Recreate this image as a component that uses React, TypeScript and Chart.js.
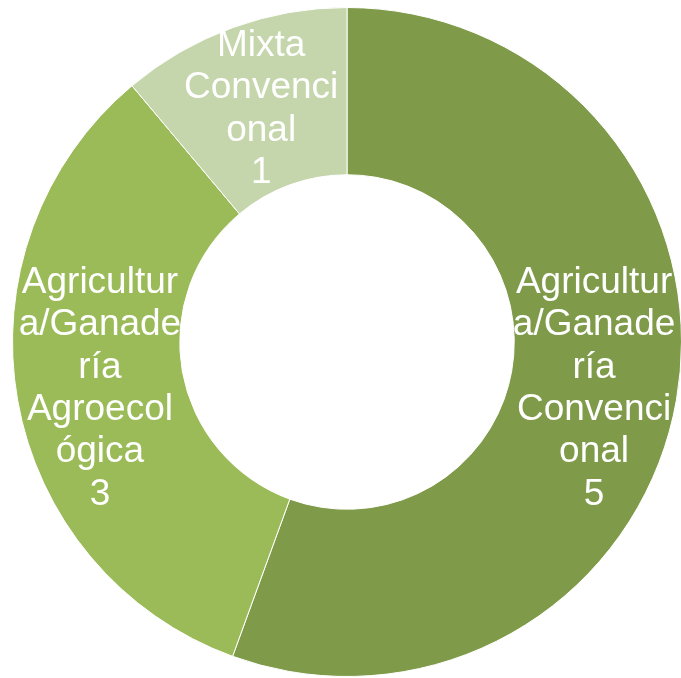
import React, { useEffect, useRef } from "react";
import { Chart, registerables } from "chart.js";

Chart.register(...registerables);

const categories = [
  "Agricultura/Ganadería Convencional",
  "Agricultura/Ganadería Agroecológica",
  "Mixta Convencional",
];
const values = [5, 3, 1];
const sliceColors = ["#7F9B4A", "#9BBB59", "#C5D6AC"];

const FONT = '37px "Liberation Sans", Arial, sans-serif';
const MAX_LINE_WIDTH = 164;
const LINE_HEIGHT = 42.4;

function wrapText(ctx: CanvasRenderingContext2D, text: string, maxW: number): string[] {
  const words = text.split(" ");
  const lines: string[] = [];
  let cur = "";
  for (const word of words) {
    const candidate = cur ? cur + " " + word : word;
    if (ctx.measureText(candidate).width <= maxW) {
      cur = candidate;
      continue;
    }
    if (cur) {
      lines.push(cur);
      cur = "";
    }
    if (ctx.measureText(word).width <= maxW) {
      cur = word;
      continue;
    }
    let chunk = "";
    for (const ch of word) {
      if (ctx.measureText(chunk + ch).width <= maxW) {
        chunk += ch;
      } else {
        lines.push(chunk);
        chunk = ch;
      }
    }
    cur = chunk;
  }
  if (cur) lines.push(cur);
  return lines;
}

const labelPlugin = {
  id: "sliceLabels",
  afterDatasetsDraw(chart: any) {
    const ctx: CanvasRenderingContext2D = chart.ctx;
    const meta = chart.getDatasetMeta(0);
    ctx.save();
    ctx.font = FONT;
    ctx.fillStyle = "#FFFFFF";
    ctx.textAlign = "center";
    ctx.textBaseline = "middle";
    meta.data.forEach((arc: any, i: number) => {
      const p = arc.getCenterPoint();
      const lines = wrapText(ctx, chart.data.labels[i], MAX_LINE_WIDTH);
      lines.push(String(chart.data.datasets[0].data[i]));
      const total = (lines.length - 1) * LINE_HEIGHT;
      const startY = p.y + 3 - total / 2;
      lines.forEach((ln, j) => {
        ctx.fillText(ln, p.x, startY + j * LINE_HEIGHT);
      });
    });
    ctx.restore();
  },
};

export default function App() {
  const canvasRef = useRef<HTMLCanvasElement | null>(null);

  useEffect(() => {
    if (!canvasRef.current) return;
    const chart = new Chart(canvasRef.current, {
      type: "doughnut",
      data: {
        labels: categories,
        datasets: [
          {
            data: values,
            backgroundColor: sliceColors,
            borderColor: "#FFFFFF",
            borderWidth: 1,
          },
        ],
      },
      options: {
        animation: false,
        responsive: true,
        maintainAspectRatio: false,
        cutout: "50%",
        layout: { padding: 7 },
        plugins: {
          legend: { display: false },
          tooltip: { enabled: false },
        },
      },
      plugins: [labelPlugin],
    });
    return () => chart.destroy();
  }, []);

  return (
    <div
      style={{
        position: "fixed",
        left: 0,
        top: 0,
        width: 694,
        height: 684,
        background: "#FFFFFF",
      }}
    >
      <canvas ref={canvasRef} />
    </div>
  );
}
